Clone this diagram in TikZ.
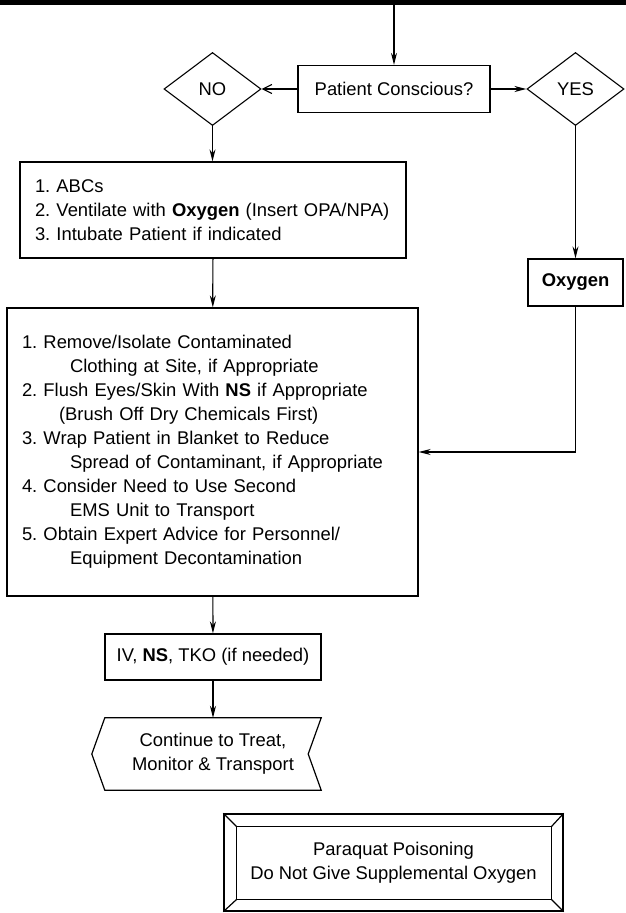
\documentclass[tikz,border=0pt]{standalone}
\usepackage{fontspec}
\setmainfont{Liberation Sans}
\usetikzlibrary{arrows.meta,calc,shapes.geometric}
\frenchspacing
\begin{document}
\begin{tikzpicture}
[x=1pt,y=-1pt,
txt/.style={font=\fontsize{18.4}{24}\selectfont},
box/.style={draw,rectangle,line width=1.3pt,inner sep=0pt,txt,align=center},
listBox/.style={box,align=left,inner xsep=15pt,inner ysep=0pt},
decision/.style={draw,diamond,line width=1.1pt,inner sep=0pt,minimum width=97pt,minimum height=73pt,txt},
edge/.style={line width=1.2pt},
arrowEnd/.style={-{Stealth[length=12pt,width=6pt]}},
openEnd/.style={-{Straight Barb[length=9pt,width=9pt]}},
outline/.style={line width=1.2pt}]
\useasboundingbox (0,0) rectangle (626,913);
\fill (0,0) rectangle (626,5);
\coordinate (top) at (394,5);
\node[box,minimum width=192pt,minimum height=47pt] (patient) at (394,89) {Patient Conscious?};
\node[decision] (no) at (212.5,89) {NO};
\node[decision] (yes) at (575.5,89) {YES};
\node[listBox,text width=356pt,minimum height=96pt] (abc) at (213,210) {1. ABCs\\2. Ventilate with \textbf{Oxygen} (Insert OPA/NPA)\\3. Intubate Patient if indicated};
\node[box,minimum width=95pt,minimum height=47pt] (oxygen) at (575.5,282.5) {\textbf{Oxygen}};
\node[listBox,text width=381pt,minimum height=288pt] (decon) at (212.5,452) {1. Remove/Isolate Contaminated\\
\hspace*{48pt}Clothing at Site, if Appropriate\\
2. Flush Eyes/Skin With \textbf{NS} if Appropriate\\
\hspace*{37pt}(Brush Off Dry Chemicals First)\\
3. Wrap Patient in Blanket to Reduce\\
\hspace*{48pt}Spread of Contaminant, if Appropriate\\
4. Consider Need to Use Second\\
\hspace*{48pt}EMS Unit to Transport\\
5. Obtain Expert Advice for Personnel/\\
\hspace*{48pt}Equipment Decontamination};
\node[box,minimum width=216pt,minimum height=46pt] (iv) at (213,657) {IV, \textbf{NS}, TKO (if needed)};
\node[txt,align=center,inner sep=0pt,minimum width=216pt,minimum height=72pt] (cont) at (213,754) {Continue to Treat,\\Monitor \& Transport};
\draw[outline] (cont.north west) -- (cont.north east) -- ($(cont.east)+(-13,0)$) -- (cont.south east) -- (cont.south west) -- ($(cont.west)+(-13,0)$) -- cycle;
\node[box,minimum width=339pt,minimum height=97pt] (paraquat) at (393.5,862.5) {Paraquat Poisoning\\Do Not Give Supplemental Oxygen};
\draw[outline] ($(paraquat.north west)+(13,13)$) rectangle ($(paraquat.south east)+(-12,-12)$);
\draw[outline] (paraquat.north west) -- +(13,13) ;
\draw[outline] (paraquat.north east) -- +(-12,13) ;
\draw[outline] (paraquat.south west) -- +(13,-12) ;
\draw[outline] (paraquat.south east) -- +(-12,-12) ;
\draw[edge,arrowEnd](top) -- (patient) ;
\draw[edge,openEnd](patient) -- (no) ;
\draw[edge,arrowEnd](patient) -- (yes) ;
\draw[edge,arrowEnd](no.south) -- (no.south |- abc.north) ;
\draw[edge,arrowEnd](abc) -- (decon) ;
\draw[edge,arrowEnd](yes) -- (oxygen) ;
\draw[edge,arrowEnd](oxygen.south) |- (decon.east) ;
\draw[edge,arrowEnd](decon) -- (iv) ;
\draw[edge,arrowEnd](iv) -- (cont.north) ;
\end{tikzpicture}
\end{document}
